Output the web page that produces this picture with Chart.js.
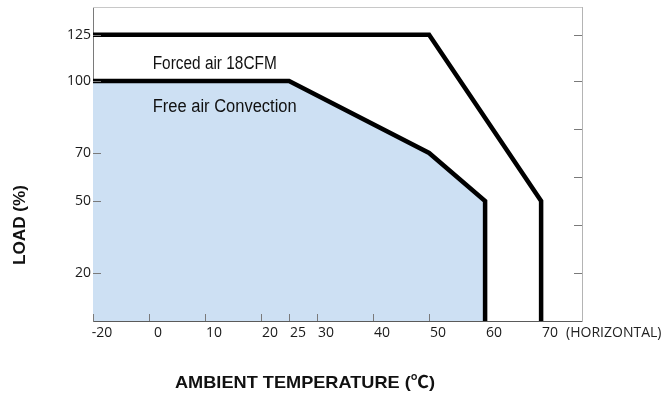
<!DOCTYPE html>
<html>
<head>
<meta charset="utf-8">
<script src="https://cdn.jsdelivr.net/npm/chart.js@4/dist/chart.umd.min.js"></script>
<style>
  html, body { margin: 0; padding: 0; background: #fff; }
  #wrap { width: 667px; height: 400px; position: relative; }
</style>
</head>
<body>
<div id="wrap"><canvas id="c"></canvas></div>
<script>
// ---- data ----
const tempTicks = [-20, 0, 10, 20, 25, 30, 40, 50, 60, 70];
const loadTicks = [20, 50, 70, 100, 125];
const rightTickLoads = [20, 40, 60, 80, 100, 125];
const freeAirTemp = [-20, 25, 50, 60, 60];
const freeAirLoad = [100, 100, 70, 50, 0];
const forcedAirTemp = [-20, 50, 70, 70];
const forcedAirLoad = [125, 125, 50, 0];
const freeAirName = 'Free air Convection';
const forcedAirName = 'Forced air 18CFM';
const xTitle = 'AMBIENT TEMPERATURE (\u2103)';
const yTitle = 'LOAD (%)';
const xNote = '(HORIZONTAL)';

// ---- axis warps (the original drawing has broken / compressed axis sections) ----
function xPos(t) { return t < 0 ? t / 2 : t; }
function yPos(v) { return v <= 100 ? v : 100 + (v - 100) * 0.77; }

const toPts = (xs, ys) => xs.map((t, i) => ({ x: xPos(t), y: yPos(ys[i]) }));

const X_MIN = -10, X_MAX = 77.3, Y_MIN = 0, Y_MAX = 130.8;

// draw text squeezed horizontally to a target width (mimics condensed face)
function fitText(ctx, text, x, y, targetW, align) {
  const w = ctx.measureText(text).width;
  const k = Math.min(1.15, targetW / w);
  ctx.save();
  ctx.translate(x, y);
  ctx.scale(k, 1);
  ctx.textAlign = align;
  ctx.fillText(text, 0, 0);
  ctx.restore();
}

const decor = {
  id: 'decor',
  beforeDatasetsDraw(chart) {
    const { ctx, chartArea: a } = chart;
    ctx.save();
    ctx.strokeStyle = '#c8c8c8';
    ctx.lineWidth = 1;
    ctx.beginPath();
    ctx.moveTo(a.left, Math.round(a.top) + 0.5);
    ctx.lineTo(a.right, Math.round(a.top) + 0.5);
    ctx.stroke();
    ctx.restore();
  },
  afterDatasetsDraw(chart) {
    const { ctx, chartArea: a, scales: { x, y } } = chart;
    ctx.save();
    // inward tick marks
    ctx.strokeStyle = '#7a7a7a';
    ctx.lineWidth = 1;
    ctx.beginPath();
    loadTicks.forEach(v => {
      const py = Math.round(y.getPixelForValue(yPos(v))) + 0.5;
      ctx.moveTo(a.left, py); ctx.lineTo(a.left + 8, py);
    });
    rightTickLoads.forEach(v => {
      const py = Math.round(y.getPixelForValue(yPos(v))) + 0.5;
      ctx.moveTo(a.right, py); ctx.lineTo(a.right - 8, py);
    });
    tempTicks.filter(t => t < 60).forEach(t => {
      const px = Math.round(x.getPixelForValue(xPos(t))) + 0.5;
      ctx.moveTo(px, a.bottom); ctx.lineTo(px, a.bottom - 7);
    });
    ctx.stroke();

    // series annotations
    ctx.fillStyle = '#111';
    ctx.textBaseline = 'alphabetic';
    ctx.font = '18px "Liberation Sans", Arial, sans-serif';
    fitText(ctx, forcedAirName, x.getPixelForValue(xPos(0.66)), y.getPixelForValue(yPos(106.3)), 124, 'left');
    fitText(ctx, freeAirName, x.getPixelForValue(xPos(0.66)), y.getPixelForValue(yPos(87.0)), 144, 'left');

    // note after 70
    ctx.fillStyle = '#222';
    ctx.font = '14px "Open Sans", "Noto Sans", sans-serif';
    ctx.textBaseline = 'middle';
    ctx.textAlign = 'left';
    ctx.fillText(xNote, x.getPixelForValue(xPos(70)) + 25, a.bottom + 12);

    // axis titles
    ctx.fillStyle = '#111';
    ctx.font = 'bold 17px "Liberation Sans", Arial, "Noto Sans CJK SC", sans-serif';
    ctx.textBaseline = 'middle';
    fitText(ctx, xTitle, 305, 383, 260, 'center');
    ctx.translate(20.5, 225);
    ctx.rotate(-Math.PI / 2);
    fitText(ctx, yTitle, 0, 0, 80, 'center');
    ctx.restore();
  }
};

new Chart(document.getElementById('c'), {
  type: 'line',
  data: {
    datasets: [
      {
        label: freeAirName,
        data: toPts(freeAirTemp, freeAirLoad),
        borderColor: '#000',
        borderWidth: 4.5,
        backgroundColor: '#cde0f3',
        fill: 'origin',
        pointRadius: 0,
        tension: 0,
        borderJoinStyle: 'miter',
        borderCapStyle: 'butt'
      },
      {
        label: forcedAirName,
        data: toPts(forcedAirTemp, forcedAirLoad),
        borderColor: '#000',
        borderWidth: 4.5,
        fill: false,
        pointRadius: 0,
        tension: 0,
        borderJoinStyle: 'miter',
        borderCapStyle: 'butt'
      }
    ]
  },
  options: {
    responsive: true,
    maintainAspectRatio: false,
    animation: false,
    devicePixelRatio: 1,
    layout: { padding: { top: 7, left: 0, right: 0, bottom: 0 } },
    plugins: { legend: { display: false }, tooltip: { enabled: false } },
    scales: {
      x: {
        type: 'linear',
        position: 'bottom',
        min: X_MIN, max: X_MAX,
        afterBuildTicks: s => { s.ticks = tempTicks.map(t => ({ value: xPos(t) })); },
        afterFit: s => { s.height = 79; s.paddingLeft = 0; s.paddingRight = 0; },
        grid: { display: false, drawTicks: false },
        border: { display: true, color: '#5a5a5a', width: 1 },
        ticks: {
          autoSkip: false, maxRotation: 0, padding: 4, labelOffset: 9,
          color: '#1a1a1a',
          font: { family: '"Open Sans", "Noto Sans", sans-serif', size: 14 },
          callback: (v, i) => String(tempTicks[i])
        }
      },
      y: {
        type: 'linear',
        position: 'left',
        min: Y_MIN, max: Y_MAX,
        afterBuildTicks: s => { s.ticks = loadTicks.map(v => ({ value: yPos(v) })); },
        afterFit: s => { s.width = 93; s.paddingTop = 0; s.paddingBottom = 0; },
        grid: { display: false, drawTicks: false },
        border: { display: true, color: '#7a7a7a', width: 1 },
        ticks: {
          autoSkip: false, padding: 2,
          color: '#1a1a1a',
          font: { family: '"Open Sans", "Noto Sans", sans-serif', size: 14 },
          callback: (v, i) => String(loadTicks[i])
        }
      },
      yRight: {
        type: 'linear',
        position: 'right',
        min: Y_MIN, max: Y_MAX,
        afterFit: s => { s.width = 85; s.paddingTop = 0; s.paddingBottom = 0; },
        grid: { display: false, drawTicks: false },
        border: { display: true, color: '#b4b4b4', width: 1 },
        ticks: { display: false }
      }
    }
  },
  plugins: [decor]
});
</script>
</body>
</html>
